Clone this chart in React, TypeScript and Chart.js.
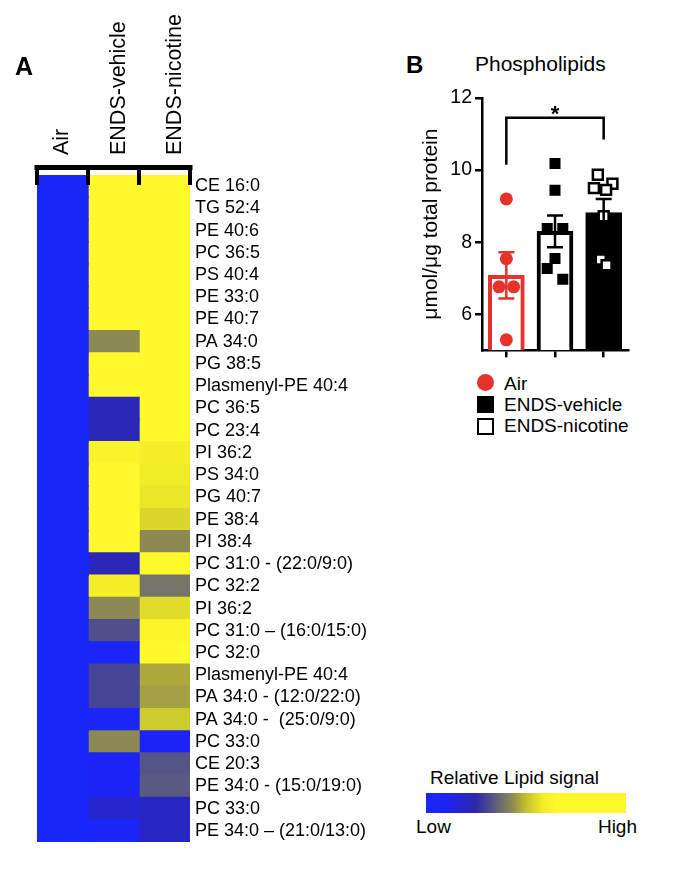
import React, { useEffect, useRef } from 'react';
import { Chart, registerables } from 'chart.js';

Chart.register(...registerables);

const FONT = '"Liberation Sans", Arial, Helvetica, sans-serif';
const RED = '#e5322a';

// ---------------- Panel A : heat map ----------------
const groupLabels = ['Air', 'ENDS-vehicle', 'ENDS-nicotine'];

const lipidLabels = [
  'CE 16:0', 'TG 52:4', 'PE 40:6', 'PC 36:5', 'PS 40:4', 'PE 33:0', 'PE 40:7', 'PA 34:0',
  'PG 38:5', 'Plasmenyl-PE 40:4', 'PC 36:5', 'PC 23:4', 'PI 36:2', 'PS 34:0', 'PG 40:7',
  'PE 38:4', 'PI 38:4', 'PC 31:0 - (22:0/9:0)', 'PC 32:2', 'PI 36:2', 'PC 31:0 \u2013 (16:0/15:0)',
  'PC 32:0', 'Plasmenyl-PE 40:4', 'PA 34:0 - (12:0/22:0)', 'PA 34:0 -  (25:0/9:0)', 'PC 33:0',
  'CE 20:3', 'PE 34:0 - (15:0/19:0)', 'PC 33:0', 'PE 34:0 \u2013 (21:0/13:0)',
];

// relative lipid signal, 0 = low (blue) ... 1 = high (yellow)
const airSignal = [
  0, 0, 0, 0, 0, 0, 0, 0, 0, 0,
  0, 0, 0, 0, 0, 0, 0, 0, 0, 0,
  0, 0, 0, 0, 0, 0, 0, 0, 0, 0,
];
const vehicleSignal = [
  1, 1, 1, 1, 1, 1, 1, 0.43, 1, 1,
  0.22, 0.22, 0.62, 1, 1, 1, 1, 0.22, 0.6, 0.43,
  0.32, 0.02, 0.3, 0.3, 0.02, 0.43, 0.05, 0.05, 0.18, 0.03,
];
const nicotineSignal = [
  1, 1, 1, 1, 1, 1, 1, 1, 1, 1,
  1, 1, 0.6, 0.58, 0.57, 0.54, 0.43, 1, 0.39, 0.55,
  0.63, 1, 0.47, 0.46, 0.52, 0.05, 0.33, 0.34, 0.2, 0.2,
];

// colour map of the "Relative Lipid signal" scale
const signalStops = [0, 0.12, 0.25, 0.35, 0.43, 0.5, 0.58, 0.65, 1];
const signalColors: number[][] = [
  [25, 38, 250], [30, 34, 235], [45, 40, 170], [95, 95, 125], [140, 137, 85],
  [195, 192, 45], [240, 236, 40], [255, 248, 42], [255, 248, 42],
];

function colorFor(v: number): string {
  for (let i = 1; i < signalStops.length; i++) {
    if (v <= signalStops[i]) {
      const t = (v - signalStops[i - 1]) / (signalStops[i] - signalStops[i - 1]);
      const a = signalColors[i - 1];
      const b = signalColors[i];
      const c = a.map((ch, k) => Math.round(ch + (b[k] - ch) * t));
      return `rgb(${c[0]},${c[1]},${c[2]})`;
    }
  }
  const l = signalColors[signalColors.length - 1];
  return `rgb(${l[0]},${l[1]},${l[2]})`;
}

// ---------------- Panel B : phospholipids ----------------
const yRange = [5, 12];
const yTickValues = [6, 8, 10, 12];
const barMeans = [7.08, 8.3, 8.82];
const barSem = [0.64, 0.44, 0.38];
const airValues = [9.2, 7.54, 6.76, 6.76, 5.29];
const airJitter = [0, 0, -0.15, 0.15, 0];
const vehicleValues = [10.18, 9.44, 8.38, 8.38, 7.55, 7.27, 6.97];
const vehicleJitter = [0, 0, -0.16, 0.16, 0, -0.16, 0.16];
const nicotineValues = [9.87, 9.62, 9.5, 9.45, 8.72, 7.52, 7.36];
const nicotineJitter = [-0.12, 0.18, -0.2, 0.05, 0, -0.06, 0.06];
const significance = { from: 0, to: 2, top: 11.45, leftEnd: 10.15, rightEnd: 10.85, label: '*' };

const headerPlugin = {
  id: 'heatHeader',
  afterDraw(chart: any) {
    const { ctx, chartArea, scales } = chart;
    const x = scales.x;
    const top = chartArea.top;
    ctx.save();
    ctx.fillStyle = '#000';
    const left = x.getPixelForValue(0);
    const right = x.getPixelForValue(groupLabels.length);
    ctx.fillRect(left - 2.5, top - 10, right - left + 5, 5);
    for (let i = 0; i <= groupLabels.length; i++) {
      const px = x.getPixelForValue(i);
      ctx.fillRect(px - 2, top - 10, 4, 20);
    }
    ctx.font = `21.5px ${FONT}`;
    ctx.textAlign = 'left';
    ctx.textBaseline = 'middle';
    groupLabels.forEach((g, i) => {
      ctx.save();
      ctx.translate(x.getPixelForValue(i + 0.5 + i * 0.1), top - 20);
      ctx.rotate(-Math.PI / 2);
      ctx.fillText(g, 0, 0);
      ctx.restore();
    });
    ctx.restore();
  },
};

const errorBarPlugin = {
  id: 'errorBars',
  afterDatasetsDraw(chart: any) {
    const { ctx, scales } = chart;
    const x = scales.x;
    const y = scales.y;
    ctx.save();
    ctx.lineWidth = 2.5;
    barMeans.forEach((m, i) => {
      const px = x.getPixelForValue(i);
      const hi = y.getPixelForValue(m + barSem[i]);
      const lo = y.getPixelForValue(m - barSem[i]);
      ctx.strokeStyle = i === 0 ? RED : '#000';
      ctx.beginPath();
      ctx.moveTo(px, hi);
      ctx.lineTo(px, lo);
      ctx.moveTo(px - 8, hi);
      ctx.lineTo(px + 8, hi);
      ctx.moveTo(px - 8, lo);
      ctx.lineTo(px + 8, lo);
      ctx.stroke();
    });
    // significance bracket
    const x0 = x.getPixelForValue(significance.from);
    const x1 = x.getPixelForValue(significance.to);
    const yt = y.getPixelForValue(significance.top);
    ctx.strokeStyle = '#000';
    ctx.beginPath();
    ctx.moveTo(x0, y.getPixelForValue(significance.leftEnd));
    ctx.lineTo(x0, yt);
    ctx.lineTo(x1, yt);
    ctx.lineTo(x1, y.getPixelForValue(significance.rightEnd));
    ctx.stroke();
    ctx.fillStyle = '#000';
    ctx.font = `bold 22px ${FONT}`;
    ctx.textAlign = 'center';
    ctx.textBaseline = 'alphabetic';
    ctx.fillText(significance.label, (x0 + x1) / 2, yt + 3.5);
    ctx.restore();
  },
};

function Txt(props: { x?: number; right?: number; baseline: number; size: number; bold?: boolean; children: any }) {
  const { x, right, baseline, size, bold, children } = props;
  const style: any = {
    position: 'absolute',
    top: baseline - 0.8465 * size,
    fontSize: size,
    lineHeight: `${size}px`,
    fontWeight: bold ? 700 : 400,
    whiteSpace: 'pre',
  };
  if (x !== undefined) style.left = x;
  if (right !== undefined) style.right = right;
  return <div style={style}>{children}</div>;
}

export default function App() {
  const heatRef = useRef<HTMLCanvasElement>(null);
  const barRef = useRef<HTMLCanvasElement>(null);

  useEffect(() => {
    const signals = [airSignal, vehicleSignal, nicotineSignal];
    const heat = new Chart(heatRef.current as HTMLCanvasElement, {
      type: 'bar',
      data: {
        labels: lipidLabels,
        datasets: signals.map((vals, i) => ({
          label: groupLabels[i],
          data: vals.map(() => 1),
          backgroundColor: vals.map(colorFor),
          borderWidth: 0,
          inflateAmount: 0.7,
          barPercentage: 1,
          categoryPercentage: 1,
        })),
      },
      options: {
        indexAxis: 'y',
        animation: false,
        responsive: false,
        maintainAspectRatio: false,
        layout: { padding: { left: 37, top: 175, right: 0, bottom: 35 } },
        plugins: { legend: { display: false }, tooltip: { enabled: false } },
        scales: {
          x: { type: 'linear', display: false, stacked: true, min: 0, max: groupLabels.length },
          y: {
            type: 'category',
            position: 'right',
            stacked: true,
            grid: { display: false, drawTicks: false },
            border: { display: false },
            ticks: { autoSkip: false, padding: 5, color: '#000', font: { family: FONT, size: 18 } },
            afterFit: (s: any) => { s.width = 210; },
          },
        },
      } as any,
      plugins: [headerPlugin],
    });

    const bar = new Chart(barRef.current as HTMLCanvasElement, {
      type: 'bar',
      data: {
        datasets: [
          {
            type: 'bar',
            data: barMeans.map((m, i) => ({ x: i, y: m })),
            backgroundColor: ['#ffffff', '#ffffff', '#000000'],
            borderColor: [RED, '#000000', '#000000'],
            borderWidth: 4,
            barThickness: 36,
            base: yRange[0],
            borderSkipped: 'start',
            order: 3,
          },
          {
            type: 'scatter',
            data: airValues.map((v, i) => ({ x: 0 + airJitter[i], y: v })),
            pointStyle: 'circle',
            pointRadius: 6.5,
            pointBackgroundColor: RED,
            pointBorderWidth: 0,
            order: 1,
          },
          {
            type: 'scatter',
            data: vehicleValues.map((v, i) => ({ x: 1 + vehicleJitter[i], y: v })),
            pointStyle: 'rect',
            pointRadius: 7.8,
            pointBackgroundColor: '#000000',
            pointBorderWidth: 0,
            order: 1,
          },
          {
            type: 'scatter',
            data: nicotineValues.map((v, i) => ({ x: 2 + nicotineJitter[i], y: v })),
            pointStyle: 'rect',
            pointRadius: 7,
            pointBackgroundColor: '#ffffff',
            pointBorderColor: '#000000',
            pointBorderWidth: 2.5,
            order: 1,
          },
        ],
      },
      options: {
        animation: false,
        responsive: false,
        maintainAspectRatio: false,
        layout: { padding: { top: 18, right: 12, bottom: 0, left: 0 } },
        plugins: { legend: { display: false }, tooltip: { enabled: false } },
        scales: {
          x: {
            type: 'linear',
            min: -0.5,
            max: 2.5,
            offset: false,
            afterBuildTicks: (s: any) => { s.ticks = groupLabels.map((_, i) => ({ value: i })); },
            ticks: { callback: () => '', padding: 0 },
            grid: { drawOnChartArea: false, drawTicks: true, tickLength: 7, color: '#000', lineWidth: 2.5, offset: false },
            border: { color: '#000', width: 2.5 },
            afterFit: (s: any) => { s.height = 14; },
          },
          y: {
            type: 'linear',
            min: yRange[0],
            max: yRange[1],
            afterBuildTicks: (s: any) => { s.ticks = yTickValues.map((v) => ({ value: v })); },
            ticks: { color: '#000', padding: 3, font: { family: FONT, size: 19.5 } },
            grid: { drawOnChartArea: false, drawTicks: true, tickLength: 7, color: '#000', lineWidth: 2.5 },
            border: { color: '#000', width: 2.5 },
            title: {
              display: true,
              text: '\u03bcmol/\u03bcg total protein',
              color: '#000',
              font: { family: FONT, size: 21 },
              padding: { top: 9, bottom: 0 },
            },
            afterFit: (s: any) => { s.width = 72; },
          },
        },
      } as any,
      plugins: [errorBarPlugin],
    });

    return () => {
      heat.destroy();
      bar.destroy();
    };
  }, []);

  const gradient = `linear-gradient(to right, ${signalStops
    .map((s, i) => `rgb(${signalColors[i].join(',')}) ${s * 100}%`)
    .join(', ')})`;

  return (
    <div
      style={{
        position: 'absolute', left: 0, top: 0, width: 677, height: 877,
        background: '#fff', fontFamily: FONT, color: '#000', overflow: 'hidden',
      }}
    >
      <canvas ref={heatRef} width={400} height={877} style={{ position: 'absolute', left: 0, top: 0 }} />
      <canvas ref={barRef} width={230} height={285} style={{ position: 'absolute', left: 410, top: 80 }} />

      <Txt x={15} baseline={75} size={25} bold>A</Txt>
      <Txt x={406} baseline={73} size={24} bold>B</Txt>
      <Txt x={475} baseline={70.5} size={21}>Phospholipids</Txt>

      {/* legend */}
      <div style={{ position: 'absolute', left: 477, top: 374, width: 17, height: 17, borderRadius: '50%', background: RED }} />
      <div style={{ position: 'absolute', left: 477, top: 396, width: 17, height: 17, background: '#000' }} />
      <div style={{ position: 'absolute', left: 477, top: 418, width: 17, height: 17, background: '#fff', border: '2.5px solid #000', boxSizing: 'border-box' }} />
      <Txt x={504} baseline={390} size={19}>Air</Txt>
      <Txt x={504} baseline={411.5} size={19}>ENDS-vehicle</Txt>
      <Txt x={504} baseline={432} size={19}>ENDS-nicotine</Txt>

      {/* colour scale */}
      <Txt x={430} baseline={784} size={19}>Relative Lipid signal</Txt>
      <div style={{ position: 'absolute', left: 426, top: 793, width: 200, height: 20, background: gradient }} />
      <Txt x={416} baseline={833} size={19}>Low</Txt>
      <Txt right={40} baseline={833} size={19}>High</Txt>
    </div>
  );
}
